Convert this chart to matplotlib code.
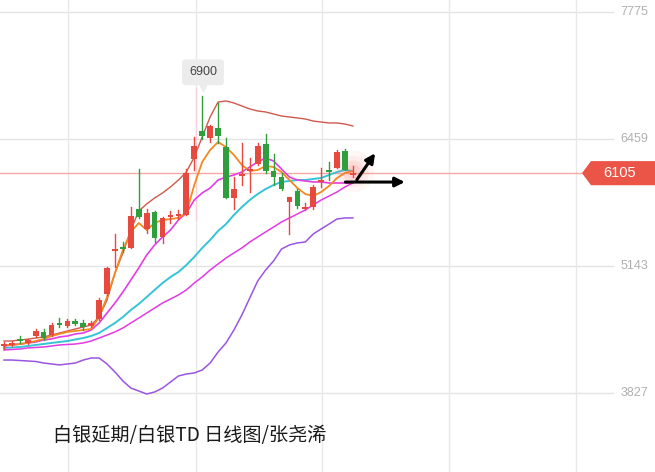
import matplotlib.pyplot as plt
from matplotlib.patches import Polygon
import matplotlib.transforms as mtransforms

# daily candles, index 0..44
opens  = [4314, 4325, 4387, 4346, 4418, 4460, 4428, 4553, 4522, 4573, 4553, 4522, 4594, 4853, 5299,
          5340, 5330, 5734, 5527, 5703, 5444, 5651, 5661, 5672, 6252, 6542, 6469, 6573, 6376, 5848,
          6076, 6127, 6200, 6407, 6127, 6065, 5806, 5920, 5734, 5754, 6014, 6138, 6158, 6335, 6085]
highs  = [4356, 4366, 4418, 4387, 4491, 4491, 4553, 4604, 4594, 4594, 4584, 4573, 4812, 5133, 5475,
          5392, 5754, 6148, 5734, 5713, 5651, 5713, 5724, 6148, 6480, 6900, 6604, 6832, 6469, 6065,
          6418, 6262, 6418, 6511, 6304, 6107, 5858, 5941, 5796, 5982, 6158, 6221, 6345, 6355, 6179]
lows   = [4283, 4314, 4346, 4335, 4408, 4377, 4418, 4511, 4511, 4532, 4480, 4511, 4584, 4843, 5133,
          5288, 5330, 5641, 5485, 5392, 5382, 5589, 5630, 5672, 6138, 6459, 6428, 6418, 5848, 5734,
          5982, 5910, 6190, 6107, 5982, 5931, 5475, 5744, 5724, 5734, 5962, 6034, 6158, 6138, 6065]
closes = [4335, 4346, 4366, 4377, 4470, 4397, 4532, 4532, 4573, 4542, 4511, 4553, 4791, 5123, 5319,
          5319, 5661, 5651, 5692, 5433, 5641, 5672, 5682, 6107, 6386, 6490, 6594, 6490, 5848, 5941,
          6096, 6148, 6386, 6127, 6065, 5941, 5858, 5765, 5754, 5962, 6034, 6117, 6324, 6138, 6105]

boll_up = [4366, 4366, 4377, 4385, 4397, 4408, 4428, 4449, 4470, 4491, 4511, 4532, 4615, 4791, 5071,
           5278, 5516, 5713, 5786, 5848, 5900, 5962, 6034, 6117, 6272, 6480, 6687, 6842, 6853, 6832,
           6801, 6770, 6749, 6739, 6718, 6697, 6687, 6677, 6666, 6645, 6635, 6625, 6625, 6614, 6594]
ma_orange = [4325, 4325, 4335, 4346, 4366, 4387, 4418, 4439, 4460, 4470, 4480, 4491, 4615, 4822, 5071,
             5309, 5496, 5589, 5516, 5589, 5620, 5630, 5641, 5692, 5982, 6221, 6345, 6428, 6376, 6293,
             6190, 6127, 6138, 6179, 6169, 6117, 6034, 5951, 5889, 5868, 5910, 5972, 6055, 6107, 6127]
ma_magenta = [4314, 4325, 4335, 4346, 4356, 4377, 4387, 4408, 4418, 4439, 4449, 4480, 4553, 4656, 4760,
              4874, 4998, 5123, 5257, 5361, 5444, 5516, 5620, 5692, 5827, 5900, 5951, 6034, 6065, 6086,
              6117, 6169, 6221, 6262, 6231, 6148, 6065, 6034, 6024, 6014, 6014, 6003, 6003, 6003, 6003]
boll_mid = [4294, 4299, 4304, 4314, 4325, 4335, 4346, 4356, 4366, 4382, 4397, 4418, 4449, 4501, 4553,
            4615, 4687, 4750, 4822, 4895, 4967, 5029, 5081, 5153, 5237, 5330, 5413, 5506, 5578, 5672,
            5754, 5827, 5889, 5941, 5982, 6014, 6024, 6034, 6034, 6045, 6055, 6086, 6117, 6138, 6127]
ma_magenta2 = [4273, 4278, 4283, 4294, 4299, 4304, 4314, 4325, 4330, 4335, 4346, 4366, 4397, 4428, 4460,
               4501, 4553, 4604, 4656, 4708, 4760, 4801, 4843, 4895, 4967, 5029, 5102, 5164, 5226, 5278,
               5330, 5392, 5444, 5496, 5547, 5599, 5641, 5682, 5724, 5775, 5827, 5868, 5910, 5962, 6003]
boll_low = [4169, 4169, 4164, 4159, 4154, 4138, 4128, 4118, 4128, 4138, 4169, 4190, 4190, 4128, 4045,
            3952, 3879, 3848, 3817, 3838, 3879, 3941, 4004, 4024, 4035, 4066, 4138, 4252, 4346, 4480,
            4636, 4812, 4988, 5102, 5195, 5319, 5361, 5382, 5392, 5475, 5527, 5578, 5630, 5641, 5641]

ytick_vals = [7775, 6459, 5143, 3827]
last_price = 6105
peak_label = "6900"
title = "白银延期/白银TD 日线图/张尧浠"

red = "#e8493e"
green = "#2f9e3d"

fig = plt.figure(figsize=(6.55, 4.72), dpi=100)
ax = fig.add_axes([0, 0, 1, 1])
ax.set_xlim(-0.5, 82.1)
ax.set_ylim(3009, 7899)
ax.axis("off")

# grid
grid_right = 76.8
for v in ytick_vals:
    ax.plot([-0.5, grid_right], [v, v], color="#e4e4e4", lw=1, zorder=0)
for gx in [8.1, 24.2, 40.1, 56.1, 72.2]:
    ax.axvline(gx, color="#e8e8e8", lw=1, zorder=0)
ax.plot([24.2, 24.2], [6990, 5620], color="#f6d3df", lw=1, zorder=0)

tr = mtransforms.blended_transform_factory(ax.transAxes, ax.transData)
for v in ytick_vals:
    ax.text(634 / 655, v, str(v), transform=tr, ha="center", va="center",
            fontsize=9, color="#b0b0b0", family="Liberation Sans")

# last price line + tag
ax.plot([-0.5, 73.0], [last_price, last_price], color="#f2aaa2", lw=1, zorder=1)
tag = Polygon([(582 / 655, last_price), (591 / 655, last_price + 125), (1.0, last_price + 125),
               (1.0, last_price - 125), (591 / 655, last_price - 125)],
              closed=True, transform=tr, facecolor="#ea5548", edgecolor="none", zorder=5)
ax.add_patch(tag)
ax.text(620 / 655, last_price, str(last_price), transform=tr, ha="center", va="center",
        fontsize=10.5, color="white", family="Liberation Sans", zorder=6)

# lines
x = list(range(len(closes)))
ax.plot(x, boll_up, color="#cf5a4c", lw=1, zorder=2)
ax.plot(x, boll_low, color="#9a55e2", lw=1.1, zorder=2)
ax.plot(x, boll_mid, color="#35c4d6", lw=1.4, zorder=2)
ax.plot(x, ma_magenta2, color="#e23be3", lw=1.1, zorder=2)
ax.plot(x, ma_magenta, color="#e33de6", lw=1.2, zorder=2)
ax.plot(x, ma_orange, color="#f3891f", lw=1.3, zorder=3)

# candles
for i in x:
    o, h, l, c = opens[i], highs[i], lows[i], closes[i]
    col = red if c >= o else green
    ax.plot([i, i], [l, h], color=col, lw=1, zorder=4)
    bot = min(o, c)
    hgt = max(abs(c - o), 12)
    ax.bar(i, hgt, bottom=bot, width=0.72, color=col, zorder=4)

# glow on last candle
for s, a in [(900, 0.06), (500, 0.08), (250, 0.1), (100, 0.12)]:
    ax.scatter([x[-1]], [closes[-1] + 20], s=s, color="#ff6b6b", alpha=a, lw=0, zorder=3)

# peak tooltip
ax.text(25.1, 7150, peak_label, ha="center", va="center", fontsize=9, color="#444444",
        family="Liberation Sans", zorder=6,
        bbox=dict(boxstyle="round,pad=0.55,rounding_size=0.25", fc="#ececec", ec="none"))
ax.scatter([25.1], [7000], marker="v", s=40, color="#ececec", zorder=6)

# trend arrows
ax.annotate("", xy=(47.0, 6335), xytext=(44.3, 6013),
            arrowprops=dict(arrowstyle="-|>", lw=2.2, color="black", mutation_scale=14), zorder=7)
ax.annotate("", xy=(50.9, 6013), xytext=(42.7, 6013),
            arrowprops=dict(arrowstyle="-|>", lw=2.2, color="black", mutation_scale=14), zorder=7)

fig.text(53 / 655, 1 - 435 / 472, title, ha="left", va="center", fontsize=13.8,
         color="#1a1a1a", family=["Noto Sans CJK SC", "DejaVu Sans"])

fig.savefig("out.png", dpi=100)
